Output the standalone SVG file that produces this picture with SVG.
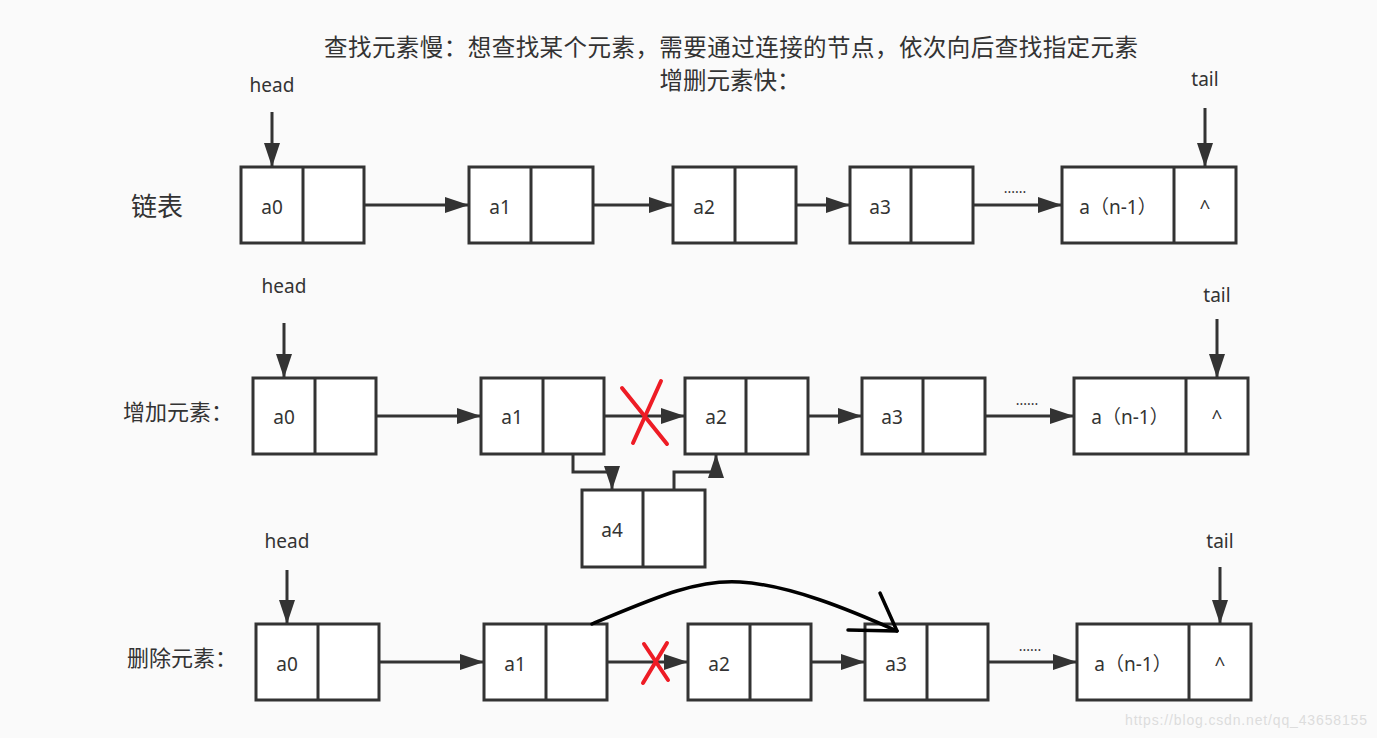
<svg xmlns="http://www.w3.org/2000/svg" width="1377" height="738" viewBox="0 0 1377 738">
<defs>
<style>
.box{fill:#ffffff;stroke:#333333;stroke-width:3}
.div{stroke:#333333;stroke-width:3}
.lbl{font-family:"Noto Sans","Noto Sans CJK SC",sans-serif;font-size:19px;fill:#333333;text-anchor:middle}
.cjk{font-family:"Noto Sans CJK SC","Noto Sans",sans-serif;fill:#333333}
.ptr{font-family:"Noto Sans",sans-serif;font-size:19px;fill:#333333;text-anchor:middle}
.dots{font-family:"Noto Sans",sans-serif;font-size:14px;fill:#333333;text-anchor:middle}
.conn{fill:none;stroke:#333333;stroke-width:3}
.cross{stroke:#ee1c25;stroke-width:4;stroke-linecap:round}
</style>
<marker id="ah" markerUnits="userSpaceOnUse" markerWidth="24" markerHeight="16" refX="24" refY="8" orient="auto">
<path d="M0,0 L24,8 L0,16 z" fill="#333333"/>
</marker>
</defs>
<rect x="0" y="0" width="1377" height="738" fill="#fafafa"/>

<g id="title">
<text class="cjk" x="324" y="56" font-size="23.5" textLength="814" lengthAdjust="spacing">查找元素慢：想查找某个元素，需要通过连接的节点，依次向后查找指定元素</text>
<text class="cjk" x="730" y="89" font-size="23.5" text-anchor="middle">增删元素快：</text>
</g>

<g id="row-labels">
<text class="cjk" x="131" y="216" font-size="26">链表</text>
<text class="cjk" x="123" y="420" font-size="22">增加元素：</text>
<text class="cjk" x="127" y="666" font-size="22">删除元素：</text>
</g>

<!-- Row 1 -->
<g id="r1-a0"><rect class="box" x="241" y="167" width="123" height="76"/><line class="div" x1="303" y1="167" x2="303" y2="243"/><text class="lbl" x="272" y="214">a0</text></g>
<g id="r1-a1"><rect class="box" x="469" y="167" width="124" height="76"/><line class="div" x1="531" y1="167" x2="531" y2="243"/><text class="lbl" x="500" y="214">a1</text></g>
<g id="r1-a2"><rect class="box" x="673" y="167" width="123" height="76"/><line class="div" x1="735" y1="167" x2="735" y2="243"/><text class="lbl" x="704" y="214">a2</text></g>
<g id="r1-a3"><rect class="box" x="850" y="167" width="123" height="76"/><line class="div" x1="911" y1="167" x2="911" y2="243"/><text class="lbl" x="880" y="214">a3</text></g>
<g id="r1-an"><rect class="box" x="1062" y="167" width="174" height="76"/><line class="div" x1="1174" y1="167" x2="1174" y2="243"/><text class="lbl" x="1118" y="214" font-size="20">a（n-1）</text><text class="lbl" x="1205" y="214">^</text></g>
<g id="r1-head"><text class="ptr" x="272" y="92">head</text></g>
<g id="r1-tail"><text class="ptr" x="1205" y="86">tail</text></g>

<!-- Row 2 -->
<g id="r2-a0"><rect class="box" x="253" y="378" width="123" height="76"/><line class="div" x1="315" y1="378" x2="315" y2="454"/><text class="lbl" x="284" y="424">a0</text></g>
<g id="r2-a1"><rect class="box" x="481" y="378" width="123" height="76"/><line class="div" x1="543" y1="378" x2="543" y2="454"/><text class="lbl" x="512" y="424">a1</text></g>
<g id="r2-a2"><rect class="box" x="685" y="378" width="123" height="76"/><line class="div" x1="746" y1="378" x2="746" y2="454"/><text class="lbl" x="716" y="424">a2</text></g>
<g id="r2-a3"><rect class="box" x="862" y="378" width="123" height="76"/><line class="div" x1="923" y1="378" x2="923" y2="454"/><text class="lbl" x="892" y="424">a3</text></g>
<g id="r2-an"><rect class="box" x="1074" y="378" width="174" height="76"/><line class="div" x1="1186" y1="378" x2="1186" y2="454"/><text class="lbl" x="1130" y="424" font-size="20">a（n-1）</text><text class="lbl" x="1217" y="424">^</text></g>
<g id="r2-a4"><rect class="box" x="582" y="490" width="123" height="77"/><line class="div" x1="643" y1="490" x2="643" y2="567"/><text class="lbl" x="612" y="537">a4</text></g>
<g id="r2-head"><text class="ptr" x="284" y="293">head</text></g>
<g id="r2-tail"><text class="ptr" x="1217" y="302">tail</text></g>

<!-- Row 3 -->
<g id="r3-a0"><rect class="box" x="256" y="624" width="123" height="76"/><line class="div" x1="318" y1="624" x2="318" y2="700"/><text class="lbl" x="287" y="671">a0</text></g>
<g id="r3-a1"><rect class="box" x="484" y="624" width="123" height="76"/><line class="div" x1="546" y1="624" x2="546" y2="700"/><text class="lbl" x="515" y="671">a1</text></g>
<g id="r3-a2"><rect class="box" x="688" y="624" width="123" height="76"/><line class="div" x1="750" y1="624" x2="750" y2="700"/><text class="lbl" x="719" y="671">a2</text></g>
<g id="r3-a3"><rect class="box" x="865" y="624" width="123" height="76"/><line class="div" x1="927" y1="624" x2="927" y2="700"/><text class="lbl" x="896" y="671">a3</text></g>
<g id="r3-an"><rect class="box" x="1077" y="624" width="174" height="76"/><line class="div" x1="1189" y1="624" x2="1189" y2="700"/><text class="lbl" x="1133" y="671" font-size="20">a（n-1）</text><text class="lbl" x="1220" y="671">^</text></g>
<g id="r3-head"><text class="ptr" x="287" y="548">head</text></g>
<g id="r3-tail"><text class="ptr" x="1220" y="548">tail</text></g>

<g id="connectors">
<!-- row 1 -->
<line class="conn" x1="272" y1="112" x2="272" y2="167" marker-end="url(#ah)"/>
<line class="conn" x1="1205" y1="108" x2="1205" y2="167" marker-end="url(#ah)"/>
<line class="conn" x1="364" y1="205" x2="469" y2="205" marker-end="url(#ah)"/>
<line class="conn" x1="593" y1="205" x2="673" y2="205" marker-end="url(#ah)"/>
<line class="conn" x1="796" y1="205" x2="850" y2="205" marker-end="url(#ah)"/>
<line class="conn" x1="973" y1="205" x2="1062" y2="205" marker-end="url(#ah)"/>
<text class="dots" x="1015" y="193">......</text>
<!-- row 2 -->
<line class="conn" x1="284" y1="323" x2="284" y2="378" marker-end="url(#ah)"/>
<line class="conn" x1="1217" y1="319" x2="1217" y2="378" marker-end="url(#ah)"/>
<line class="conn" x1="376" y1="416" x2="481" y2="416" marker-end="url(#ah)"/>
<line class="conn" x1="604" y1="416" x2="685" y2="416" marker-end="url(#ah)"/>
<line class="conn" x1="808" y1="416" x2="862" y2="416" marker-end="url(#ah)"/>
<line class="conn" x1="985" y1="416" x2="1074" y2="416" marker-end="url(#ah)"/>
<text class="dots" x="1027" y="405">......</text>
<path class="conn" d="M573,454 V472 H612 V490" marker-end="url(#ah)"/>
<path class="conn" d="M674,490 V472 H716 V454" marker-end="url(#ah)"/>
<line class="cross" x1="622" y1="388" x2="667" y2="444"/>
<line class="cross" x1="661" y1="381" x2="633" y2="443"/>
<!-- row 3 -->
<line class="conn" x1="287" y1="570" x2="287" y2="624" marker-end="url(#ah)"/>
<line class="conn" x1="1220" y1="567" x2="1220" y2="624" marker-end="url(#ah)"/>
<line class="conn" x1="379" y1="662" x2="484" y2="662" marker-end="url(#ah)"/>
<line class="conn" x1="607" y1="662" x2="688" y2="662" marker-end="url(#ah)"/>
<line class="conn" x1="811" y1="662" x2="865" y2="662" marker-end="url(#ah)"/>
<line class="conn" x1="988" y1="662" x2="1077" y2="662" marker-end="url(#ah)"/>
<text class="dots" x="1030" y="651">......</text>
<line class="cross" x1="644" y1="644" x2="668" y2="680"/>
<line class="cross" x1="667" y1="643" x2="643" y2="683"/>
<path d="M592,624 C650,600 695,579 740,582 C790,585 850,610 897,631" fill="none" stroke="#000000" stroke-width="3.5" stroke-linecap="round"/>
<path d="M880,593 L897,631 L848,630" fill="none" stroke="#000000" stroke-width="3.5" stroke-linecap="round" stroke-linejoin="round"/>
</g>

<g id="watermark"><text x="1125" y="725" font-family="Liberation Sans, Arial, sans-serif" font-size="14" fill="#dddddd" textLength="242">https://blog.csdn.net/qq_43658155</text></g>
</svg>
